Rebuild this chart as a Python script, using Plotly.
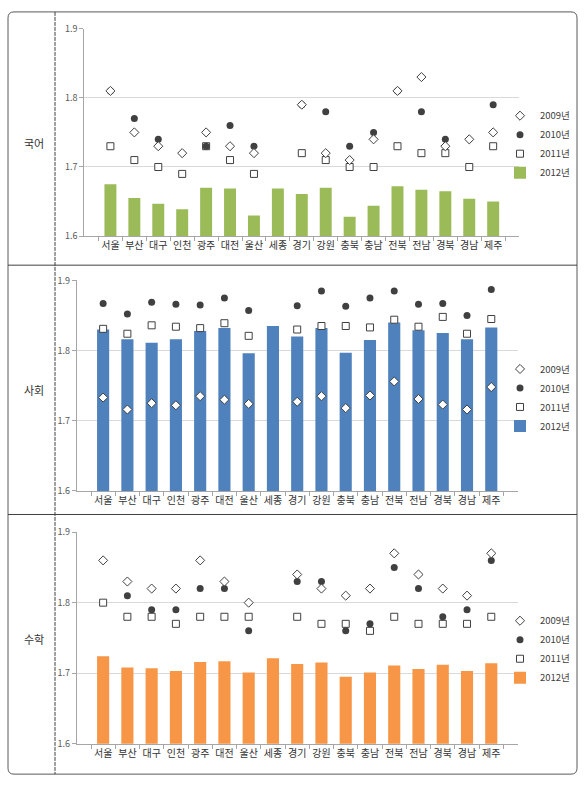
import plotly.graph_objects as go

W, H = 588, 788

regions = ["서울", "부산", "대구", "인천", "광주", "대전", "울산", "세종", "경기",
           "강원", "충북", "충남", "전북", "전남", "경북", "경남", "제주"]
years = ["2009년", "2010년", "2011년", "2012년"]
subjects = ["국어", "사회", "수학"]
y_ticks = [1.6, 1.7, 1.8, 1.9]
y_tick_labels = ["1.6", "1.7", "1.8", "1.9"]

# 국어
kor_2009 = [1.81, 1.75, 1.73, 1.72, 1.75, 1.73, 1.72, None, 1.79, 1.72, 1.71, 1.74, 1.81, 1.83, 1.73, 1.74, 1.75]
kor_2010 = [1.81, 1.77, 1.74, None, 1.73, 1.76, 1.73, None, 1.79, 1.78, 1.73, 1.75, 1.81, 1.78, 1.74, None, 1.79]
kor_2011 = [1.73, 1.71, 1.70, 1.69, 1.73, 1.71, 1.69, None, 1.72, 1.71, 1.70, 1.70, 1.73, 1.72, 1.72, 1.70, 1.73]
kor_2012 = [1.675, 1.655, 1.647, 1.639, 1.670, 1.669, 1.630, 1.669, 1.661, 1.670, 1.628, 1.644, 1.672, 1.667, 1.665, 1.654, 1.650]

# 사회
soc_2009 = [1.733, 1.716, 1.725, 1.722, 1.735, 1.730, 1.724, None, 1.727, 1.735, 1.718, 1.736, 1.756, 1.731, 1.723, 1.716, 1.748]
soc_2010 = [1.867, 1.852, 1.869, 1.866, 1.865, 1.875, 1.857, None, 1.864, 1.885, 1.863, 1.875, 1.885, 1.866, 1.867, 1.850, 1.887]
soc_2011 = [1.831, 1.824, 1.836, 1.834, 1.832, 1.839, 1.821, None, 1.830, 1.835, 1.835, 1.833, 1.844, 1.834, 1.848, 1.824, 1.845]
soc_2012 = [1.830, 1.816, 1.811, 1.816, 1.828, 1.832, 1.796, 1.835, 1.820, 1.832, 1.797, 1.815, 1.840, 1.829, 1.825, 1.816, 1.833]

# 수학
math_2009 = [1.86, 1.83, 1.82, 1.82, 1.86, 1.83, 1.80, None, 1.84, 1.82, 1.81, 1.82, 1.87, 1.84, 1.82, 1.81, 1.87]
math_2010 = [None, 1.81, 1.79, 1.79, 1.82, 1.82, 1.76, None, 1.83, 1.83, 1.76, 1.77, 1.85, 1.82, 1.78, 1.79, 1.86]
math_2011 = [1.80, 1.78, 1.78, 1.77, 1.78, 1.78, 1.78, None, 1.78, 1.77, 1.77, 1.76, 1.78, 1.77, 1.77, 1.77, 1.78]
math_2012 = [1.724, 1.708, 1.707, 1.703, 1.716, 1.717, 1.701, 1.721, 1.713, 1.715, 1.695, 1.701, 1.711, 1.706, 1.712, 1.703, 1.714]

data = [
    (kor_2009, kor_2010, kor_2011, kor_2012),
    (soc_2009, soc_2010, soc_2011, soc_2012),
    (math_2009, math_2010, math_2011, math_2012),
]
bar_colors = ["#9bbb59", "#4f81bd", "#f79646"]

FONT = "Noto Sans CJK KR, Liberation Sans, sans-serif"
DARK = "#404040"


def px(x):
    return x / W


def py(y):
    return 1 - y / H


# pixel geometry of panels (x0, x1, ytop, ybottom)
panels = [
    (84.3, 519.3, 22, 233),
    (76.7, 517.7, 278, 492),
    (76.7, 517.7, 534, 749),
]
legend_mid = [139.5, 397, 653]
label_y = [138, 389, 643]

fig = go.Figure()
layout = dict(
    width=W, height=H,
    margin=dict(l=0, r=0, t=0, b=0),
    paper_bgcolor="white", plot_bgcolor="white",
    font=dict(family=FONT, color="#333333", size=10),
    showlegend=True,
)

for i, (vals, color) in enumerate(zip(data, bar_colors)):
    n = "" if i == 0 else str(i + 1)
    xa, ya = "x" + n, "y" + n
    leg = "legend" + n
    v09, v10, v11, v12 = vals
    fig.add_trace(go.Bar(
        x=regions, y=v12, name=years[3], marker=dict(color=color, line=dict(width=0)),
        width=0.5, xaxis=xa, yaxis=ya, legend=leg, legendrank=4,
    ))
    fig.add_trace(go.Scatter(
        x=regions, y=v11, name=years[2], mode="markers",
        marker=dict(symbol="square", size=7, color="white", line=dict(color=DARK, width=1)),
        xaxis=xa, yaxis=ya, legend=leg, legendrank=3,
    ))
    fig.add_trace(go.Scatter(
        x=regions, y=v10, name=years[1], mode="markers",
        marker=dict(symbol="circle", size=7, color=DARK, line=dict(width=0)),
        xaxis=xa, yaxis=ya, legend=leg, legendrank=2,
    ))
    fig.add_trace(go.Scatter(
        x=regions, y=v09, name=years[0], mode="markers",
        marker=dict(symbol="diamond", size=7, color="white", line=dict(color=DARK, width=1)),
        xaxis=xa, yaxis=ya, legend=leg, legendrank=1,
    ))
    x0, x1, yt, yb = panels[i]
    layout["xaxis" + n] = dict(
        domain=[px(x0), px(x1)], anchor=ya, type="category",
        showline=True, linecolor="#a6a6a6", linewidth=1,
        ticks="outside", tickson="boundaries", ticklen=4, tickcolor="#a6a6a6",
        showgrid=False, tickfont=dict(size=10, color="#333333"),
        tickangle=0, fixedrange=True,
    )
    layout["yaxis" + n] = dict(
        domain=[py(yb), py(yt)], anchor=xa, range=[1.6, 1.9],
        tickvals=y_ticks, ticktext=y_tick_labels,
        showline=True, linecolor="#a6a6a6", linewidth=1,
        ticks="outside", ticklen=4, tickcolor="#a6a6a6",
        showgrid=True, gridcolor="#d9d9d9", gridwidth=1,
        tickfont=dict(size=9, color="#595959"), zeroline=False,
        fixedrange=True,
    )
    layout[leg] = dict(
        x=px(500), xanchor="left", y=py(legend_mid[i]), yanchor="middle",
        bgcolor="rgba(0,0,0,0)", borderwidth=0,
        font=dict(size=9.5, color="#404040"), traceorder="normal",
        itemwidth=30,
    )

fig.update_layout(**layout)

# frame
r = 6
x0, x1, y0, y1 = px(8), px(577), py(5), py(780)
rx, ry = r / W, r / H
path = (f"M {x0 + rx} {y0} L {x1 - rx} {y0} Q {x1} {y0} {x1} {y0 - ry} "
        f"L {x1} {y1 + ry} Q {x1} {y1} {x1 - rx} {y1} "
        f"L {x0 + rx} {y1} Q {x0} {y1} {x0} {y1 + ry} "
        f"L {x0} {y0 - ry} Q {x0} {y0} {x0 + rx} {y0} Z")
fig.add_shape(type="path", path=path, xref="paper", yref="paper",
              line=dict(color="#595959", width=1))
for yy in (262.5, 516):
    fig.add_shape(type="line", xref="paper", yref="paper",
                  x0=px(8), x1=px(577), y0=py(yy), y1=py(yy),
                  line=dict(color="#404040", width=1))
fig.add_shape(type="line", xref="paper", yref="paper",
              x0=px(55), x1=px(55), y0=py(5), y1=py(780),
              line=dict(color="#404040", width=1, dash="4px,1px"))

for s, yy in zip(subjects, label_y):
    fig.add_annotation(text=s, xref="paper", yref="paper", x=px(34), y=py(yy),
                       showarrow=False, font=dict(size=11, color="#333333"),
                       xanchor="center", yanchor="middle")

fig.write_html(
    "out.html",
    config={"displayModeBar": False},
    post_script="document.body.style.margin='0';document.body.style.overflow='hidden';",
)
